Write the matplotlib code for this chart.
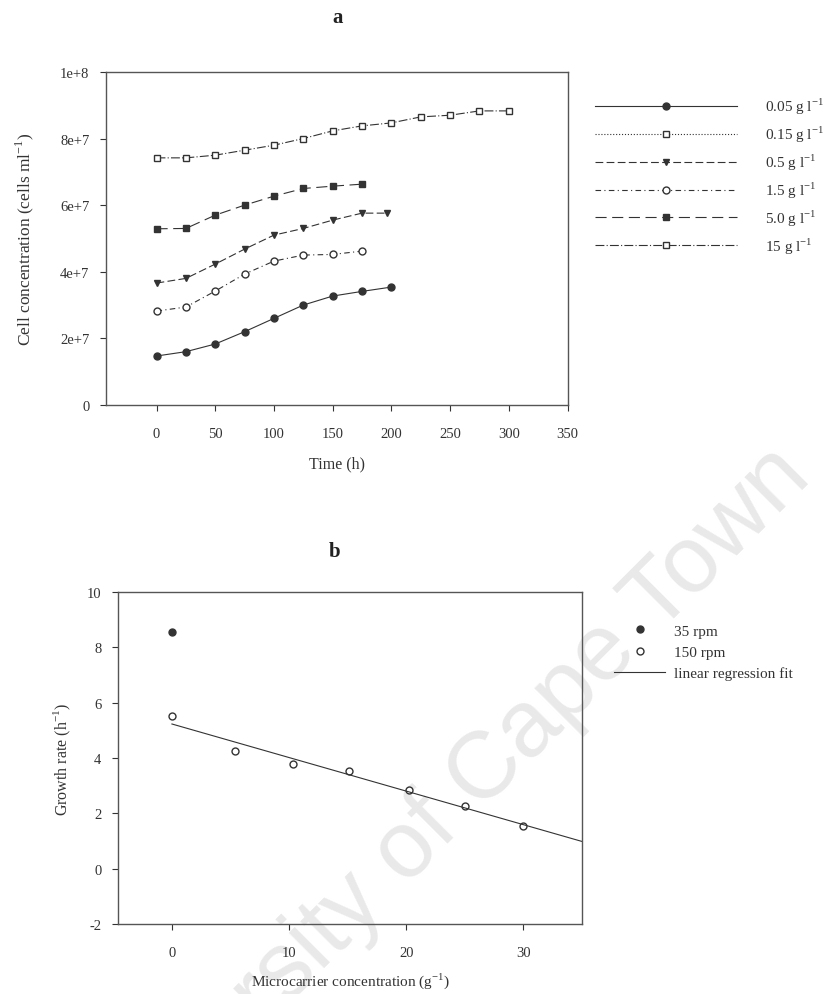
import matplotlib.pyplot as plt
import numpy as np

plt.rcParams["font.family"] = ["Liberation Serif", "DejaVu Serif"]
plt.rcParams["mathtext.fontset"] = "custom"
plt.rcParams["mathtext.rm"] = "Liberation Serif"
plt.rcParams["axes.unicode_minus"] = False

# ---- panel a: cell concentration vs time ----
labelsA = ["0.05 g l$^{-1}$", "0.15 g l$^{-1}$", "0.5 g l$^{-1}$",
           "1.5 g l$^{-1}$", "5.0 g l$^{-1}$", "15 g l$^{-1}$"]
t005 = [0, 25, 50, 75, 100, 125, 150, 175, 200]
c005 = [1.47e7, 1.6e7, 1.83e7, 2.2e7, 2.6e7, 3.0e7, 3.27e7, 3.41e7, 3.54e7]
t015 = []
c015 = []
t05 = [0, 25, 50, 75, 100, 125, 150, 175, 196]
c05 = [3.66e7, 3.8e7, 4.23e7, 4.68e7, 5.1e7, 5.3e7, 5.55e7, 5.76e7, 5.76e7]
t15 = [0, 25, 50, 75, 100, 125, 150, 175]
c15 = [2.82e7, 2.94e7, 3.42e7, 3.93e7, 4.32e7, 4.5e7, 4.52e7, 4.62e7]
t50 = [0, 25, 50, 75, 100, 125, 150, 175]
c50 = [5.29e7, 5.3e7, 5.7e7, 6.0e7, 6.27e7, 6.5e7, 6.57e7, 6.63e7]
t150 = [0, 25, 50, 75, 100, 125, 150, 175, 200, 225, 250, 275, 300]
c150 = [7.42e7, 7.42e7, 7.5e7, 7.65e7, 7.8e7, 8.0e7, 8.23e7, 8.38e7, 8.47e7,
        8.65e7, 8.7e7, 8.83e7, 8.83e7]
yticksA = [0, 2e7, 4e7, 6e7, 8e7, 1e8]
yticklabA = ["0", "2e+7", "4e+7", "6e+7", "8e+7", "1e+8"]
xticksA = [0, 50, 100, 150, 200, 250, 300, 350]

# ---- panel b: growth rate vs microcarrier concentration ----
x35 = [0]
g35 = [8.55]
x150 = [0, 5.4, 10.3, 15.1, 20.2, 25, 30]
g150 = [5.52, 4.25, 3.78, 3.53, 2.84, 2.27, 1.54]
yticksB = [-2, 0, 2, 4, 6, 8, 10]
xticksB = [0, 10, 20, 30]

ink = "#333333"
fig = plt.figure(figsize=(8.33, 9.95), dpi=100)

# watermark, drawn underneath the axes
fig.text(436 / 833, 1 - 822 / 995, "University of Cape Town", fontsize=68,
         family="Liberation Sans", rotation=45, color="#e9e9e9",
         ha="center", va="center", zorder=-5)

axA = fig.add_axes([0.1273, 0.592, 0.554, 0.3347])
series = [
    (t005, c005, "-", "o", ink, labelsA[0]),
    (t015, c015, ":", "s", "white", labelsA[1]),
    (t05, c05, (0, (7, 3)), "v", ink, labelsA[2]),
    (t15, c15, (0, (5, 3, 1, 3)), "o", "white", labelsA[3]),
    (t50, c50, (0, (10, 5)), "s", ink, labelsA[4]),
    (t150, c150, (0, (8, 2, 1, 2)), "s", "white", labelsA[5]),
]
handles = []
for t, c, ls, mk, fc, lab in series:
    h, = axA.plot(t, c, linestyle=ls, marker=mk, markersize=5, color=ink,
                  markerfacecolor=fc, markeredgecolor=ink, lw=0.8, label=lab)
    handles.append(h)
axA.set_xlim(-43, 350)
axA.set_ylim(0, 1e8)
axA.set_xticks(xticksA)
axA.set_yticks(yticksA)
axA.set_yticklabels(yticklabA)
axA.set_xlabel("Time (h)", fontsize=11.5, color=ink, labelpad=11)
axA.set_ylabel("Cell concentration (cells ml$^{-1}$)", fontsize=12.5,
               color=ink, labelpad=17)
fig.legend(handles=handles, loc="upper left", bbox_to_anchor=(0.698, 0.9166),
           frameon=False, handlelength=9.3, numpoints=1, labelspacing=0.5,
           fontsize=11, handletextpad=1.8, labelcolor=ink)
fig.text(338 / 833, 1 - 18 / 995, "a", fontsize=15, fontweight="bold",
         ha="center", va="center", color="#222222")

axB = fig.add_axes([0.1417, 0.0704, 0.557, 0.3337])
axB.plot(x35, g35, "o", markersize=5, color=ink, label="35 rpm")
axB.plot(x150, g150, "o", markersize=5, markerfacecolor="white",
         markeredgecolor=ink, label="150 rpm")
slope, icpt = np.polyfit(x150, g150, 1)
xfit = np.linspace(0, 35, 50)
axB.plot(xfit, slope * xfit + icpt, "-", color=ink, lw=0.8,
         label="linear regression fit")
axB.set_xlim(-4.6, 35)
axB.set_ylim(-2, 10)
axB.set_xticks(xticksB)
axB.set_yticks(yticksB)
axB.set_xlabel("Microcarrier concentration (g$^{-1}$)", fontsize=11,
               color=ink, labelpad=8)
axB.set_ylabel("Growth rate (h$^{-1}$)", fontsize=11.5, color=ink,
               labelpad=10)
axB.legend(loc="upper left", bbox_to_anchor=(1.04, 0.945), frameon=False,
           handlelength=3.3, numpoints=1, fontsize=11, labelspacing=0.5,
           handletextpad=0.6, labelcolor=ink)
fig.text(335 / 833, 1 - 552 / 995, "b", fontsize=15, fontweight="bold",
         ha="center", va="center", color="#222222")

for ax in (axA, axB):
    ax.set_facecolor("none")
    ax.tick_params(direction="out", length=4, width=0.8, colors=ink,
                   labelsize=10.5)
    ax.tick_params(axis="y", pad=8)
    for s in ax.spines.values():
        s.set_color("#555555")
        s.set_linewidth(1.0)
axA.tick_params(axis="x", pad=12)
axB.tick_params(axis="x", pad=12)

fig.savefig("out.png", dpi=100)
